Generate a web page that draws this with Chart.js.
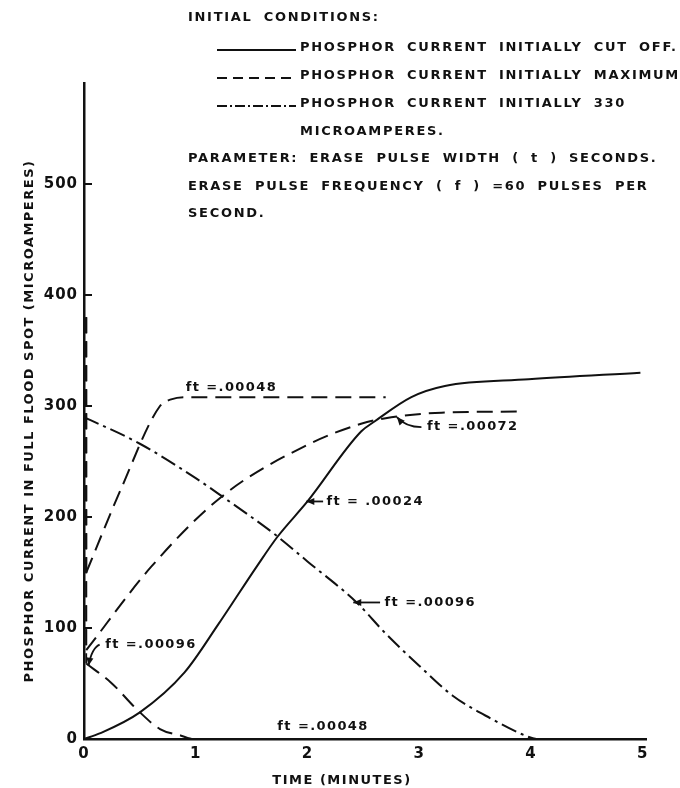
<!DOCTYPE html>
<html><head><meta charset="utf-8">
<script src="https://cdn.jsdelivr.net/npm/chart.js@4.4.1/dist/chart.umd.min.js"></script>
<style>html,body{margin:0;padding:0;background:#fff;} #wrap{width:680px;height:788px;position:relative;}</style>
</head><body><div id="wrap"><canvas id="c" width="680" height="788"></canvas></div>
<script>
// ---- tick labels ----
const xTickValues = [0, 1, 2, 3, 4, 5];
const yTickValues = [0, 100, 200, 300, 400, 500];

// ---- series (time in minutes, current in microamperes) ----
// Phosphor current initially cut off, ft = .00024 (solid)
const cutOff00024Time    = [0, 0.14, 0.5, 0.9, 1.2, 1.55, 1.73, 2.0, 2.48, 2.6, 2.93, 3.23, 3.98, 4.98];
const cutOff00024Current = [0, 5, 24, 60, 103, 156, 182, 214, 277, 286, 308, 318, 324, 330];
// Phosphor current initially cut off, ft = .00048 (solid, stays at zero)
const cutOff00048Time    = [0, 4.9];
const cutOff00048Current = [0, 0];
// Phosphor current initially maximum (dashed): initial value, then each recovery curve
const initialMaximumCurrent = 380;
const max00048Time    = [0.02, 0.33, 0.68, 0.78, 0.9, 2.7];
const max00048Current = [150, 225, 300, 306, 308, 308];
const max00072Time    = [0.02, 0.6, 1.24, 2.0, 2.48, 2.7, 3.2, 3.9];
const max00072Current = [80, 155, 219, 265, 284, 289, 294, 295];
const max00096Time    = [0.02, 0.24, 0.49, 0.68, 0.87, 0.98, 4.9];
const max00096Current = [68, 51, 25, 9, 3, 0, 0];
// Phosphor current initially 330 microamperes, ft = .00096 (dash-dot)
const init330Time    = [0, 0.5, 1.0, 1.23, 1.7, 2.0, 2.44, 2.7, 3.0, 3.3, 3.65, 3.95, 4.05, 4.95];
const init330Current = [290, 266, 235, 219, 185, 160, 123, 95, 66, 39, 18, 3, 0, 0];

// ---- texts ----
const xAxisTitle = 'TIME (MINUTES)';
const yAxisTitle = 'PHOSPHOR CURRENT IN FULL FLOOD SPOT (MICROAMPERES)';
const legendHeading = 'INITIAL CONDITIONS:';
const legendLabels = ['PHOSPHOR CURRENT INITIALLY CUT OFF.', 'PHOSPHOR CURRENT INITIALLY MAXIMUM', 'PHOSPHOR CURRENT INITIALLY 330', 'MICROAMPERES.'];
const parameterNote = ['PARAMETER: ERASE PULSE WIDTH ( t ) SECONDS.', 'ERASE PULSE FREQUENCY ( f ) =60 PULSES PER', 'SECOND.'];
const curveLabels = ['ft =.00048', 'ft =.00072', 'ft = .00024', 'ft =.00096', 'ft =.00096', 'ft =.00048'];

const DASH = [16, 8];
const DASHDOT = [16, 5, 3, 5];
const INK = '#111';

function pts(t, v) { return t.map((x, i) => ({x: x, y: v[i]})); }
function ds(label, t, v, dash) {
  return {label, data: pts(t, v), borderColor: INK, borderWidth: 2, borderDash: dash || [],
    pointRadius: 0, fill: false, cubicInterpolationMode: 'monotone', clip: 6};
}
function drop(label, t, v) {
  return {label, data: [{x: t[0], y: initialMaximumCurrent}, {x: t[0], y: v[0]}], borderColor: INK,
    borderWidth: 1.8, borderDash: DASH, pointRadius: 0, fill: false, tension: 0, clip: 6};
}

// annotation anchors in data units (time, current)
const labelAnchors = [
  {x: 0.91, y: 317}, {x: 3.07, y: 281}, {x: 2.17, y: 214},
  {x: 2.69, y: 123}, {x: 0.19, y: 85}, {x: 1.73, y: 11}
];
const arrowPaths = [
  [[3.02, 281], [2.88, 281], [2.80, 290]],
  [[2.14, 214], [1.99, 214]],
  [[2.65, 123], [2.41, 123]],
  [[0.14, 85], [0.07, 82], [0.04, 66]]
];

function arrowHead(ctx, fx, fy, tx, ty) {
  const a = Math.atan2(ty - fy, tx - fx), L = 8, W = 3.5;
  ctx.beginPath();
  ctx.moveTo(tx, ty);
  ctx.lineTo(tx - L * Math.cos(a) + W * Math.sin(a), ty - L * Math.sin(a) - W * Math.cos(a));
  ctx.lineTo(tx - L * Math.cos(a) - W * Math.sin(a), ty - L * Math.sin(a) + W * Math.cos(a));
  ctx.closePath(); ctx.fill();
}

const decor = {
  id: 'decor',
  beforeDraw(chart) { chart.ctx.letterSpacing = '1px'; },
  afterDraw(chart) {
    const ctx = chart.ctx, xs = chart.scales.x, ys = chart.scales.y, ca = chart.chartArea;
    ctx.save();
    ctx.fillStyle = INK; ctx.strokeStyle = INK;
    // inward y tick marks
    ctx.lineWidth = 2;
    yTickValues.forEach(v => { if (v === 0) return; const y = ys.getPixelForValue(v);
      ctx.beginPath(); ctx.moveTo(ca.left, y); ctx.lineTo(ca.left + 8, y); ctx.stroke(); });

    ctx.font = 'bold 13px "DejaVu Sans"';
    ctx.textBaseline = 'middle';
    // axis titles
    ctx.letterSpacing = '1.5px';
    ctx.textAlign = 'center';
    ctx.fillText(xAxisTitle, 342, 781);
    ctx.save(); ctx.translate(30, 421); ctx.rotate(-Math.PI / 2); ctx.fillText(yAxisTitle, 0, 0); ctx.restore();

    // legend block
    ctx.textAlign = 'left';
    ctx.letterSpacing = '1.7px';
    ctx.wordSpacing = '5px';
    const rowY = [18, 48, 76, 104, 132, 159, 187, 214];
    ctx.fillText(legendHeading, 188, rowY[0]);
    for (let i = 0; i < 4; i++) ctx.fillText(legendLabels[i], 300, rowY[i + 1]);
    for (let i = 0; i < 3; i++) ctx.fillText(parameterNote[i], 188, rowY[i + 5]);
    ctx.wordSpacing = '0px';
    const samples = [[], [10, 6], [10, 3, 2, 3]];
    ctx.lineWidth = 2;
    samples.forEach((d, i) => { ctx.setLineDash(d); ctx.beginPath();
      ctx.moveTo(217, rowY[i + 1] + 2); ctx.lineTo(296, rowY[i + 1] + 2); ctx.stroke(); });
    ctx.setLineDash([]);

    // curve labels
    ctx.letterSpacing = '1.4px';
    labelAnchors.forEach((a, i) => ctx.fillText(curveLabels[i], xs.getPixelForValue(a.x), ys.getPixelForValue(a.y)));
    // arrows
    ctx.lineWidth = 1.8;
    arrowPaths.forEach(p => {
      const P = p.map(q => [xs.getPixelForValue(q[0]), ys.getPixelForValue(q[1])]);
      ctx.beginPath(); ctx.moveTo(P[0][0], P[0][1]);
      if (P.length === 3) ctx.quadraticCurveTo(P[1][0], P[1][1], P[2][0], P[2][1]);
      else ctx.lineTo(P[1][0], P[1][1]);
      ctx.stroke();
      const n = P.length; arrowHead(ctx, P[n - 2][0], P[n - 2][1], P[n - 1][0], P[n - 1][1]);
    });
    ctx.restore();
  }
};

const tickFont = {family: '"DejaVu Sans"', size: 15, weight: 'bold'};
new Chart(document.getElementById('c'), {
  type: 'line',
  data: {datasets: [
    ds('Initially cut off, ft=.00024', cutOff00024Time, cutOff00024Current),
    ds('Initially cut off, ft=.00048', cutOff00048Time, cutOff00048Current),
    drop('Initial maximum, ft=.00048', max00048Time, max00048Current),
    drop('Initial maximum, ft=.00072', max00072Time, max00072Current),
    drop('Initial maximum, ft=.00096', max00096Time, max00096Current),
    ds('Initially maximum, ft=.00048', max00048Time, max00048Current, DASH),
    ds('Initially maximum, ft=.00072', max00072Time, max00072Current, DASH),
    ds('Initially maximum, ft=.00096', max00096Time, max00096Current, DASH),
    ds('Initially 330 µA, ft=.00096', init330Time, init330Current, DASHDOT)
  ]},
  options: {
    responsive: false, animation: false, devicePixelRatio: 1,
    layout: {padding: {left: 20, right: 34, top: 83, bottom: 0}},
    plugins: {legend: {display: false}, tooltip: {enabled: false}, title: {display: false}},
    scales: {
      x: {type: 'linear', min: 0, max: 5.03,
        afterBuildTicks: s => { s.ticks = xTickValues.map(v => ({value: v})); },
        afterFit: s => { s.height = 49; },
        grid: {display: false, drawTicks: false},
        border: {display: true, color: INK, width: 2.5},
        ticks: {font: tickFont, color: INK, padding: 6, maxRotation: 0, autoSkip: false}},
      y: {type: 'linear', min: 0, max: 591,
        afterBuildTicks: s => { s.ticks = yTickValues.map(v => ({value: v})); },
        afterFit: s => { s.width = 64; },
        grid: {display: false, drawTicks: false},
        border: {display: true, color: INK, width: 2.5},
        ticks: {font: tickFont, color: INK, padding: 6, autoSkip: false}}
    }
  },
  plugins: [decor]
});
</script></body></html>
